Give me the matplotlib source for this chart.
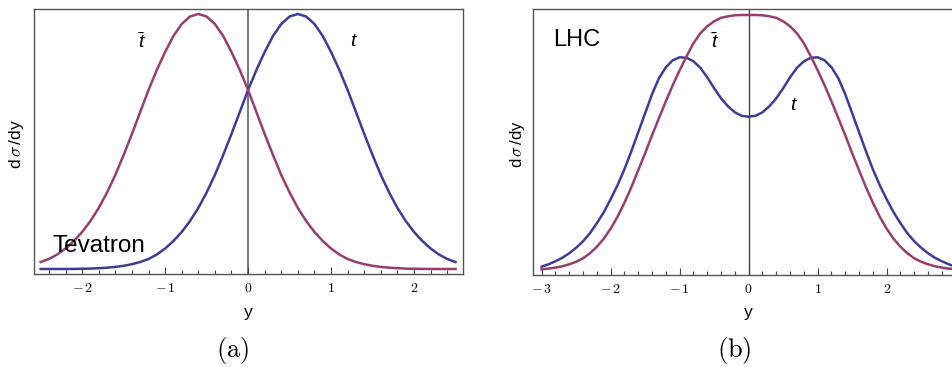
import numpy as np
import matplotlib
matplotlib.use('Agg')
import matplotlib.pyplot as plt
from matplotlib.ticker import MultipleLocator

plt.rcParams['font.family'] = ['Liberation Sans', 'DejaVu Sans']
plt.rcParams['mathtext.fontset'] = 'custom'
plt.rcParams['mathtext.it'] = 'Liberation Sans:italic'
plt.rcParams['mathtext.rm'] = 'Liberation Sans'

# (a) Tevatron, y from -2.5 to 2.5 in steps of 0.1 (arbitrary units)
tev_y = np.linspace(-2.5, 2.5, 51)
tev_top = [5.0, 5.0, 5.0, 5.0, 5.1, 5.2, 5.4, 5.8, 6.3, 7.1,
           8.2, 9.8, 12.0, 15.0, 19.5, 25.5, 33.0, 42.0, 53.0, 66.0,
           81.5, 99.0, 119.0, 140.0, 162.0, 184.0, 204.0, 222.0, 238.0, 250.0,
           257.5, 260.0, 257.5, 250.0, 238.0, 222.0, 204.0, 184.0, 162.0, 140.0,
           119.0, 99.0, 81.5, 66.0, 53.0, 42.0, 33.0, 25.5, 19.5, 15.0,
           12.0]
tev_antitop = [12.0, 15.0, 19.5, 25.5, 33.0, 42.0, 53.0, 66.0, 81.5, 99.0,
               119.0, 140.0, 162.0, 184.0, 204.0, 222.0, 238.0, 250.0, 257.5, 260.0,
               257.5, 250.0, 238.0, 222.0, 204.0, 184.0, 162.0, 140.0, 119.0, 99.0,
               81.5, 66.0, 53.0, 42.0, 33.0, 25.5, 19.5, 15.0, 12.0, 9.8,
               8.2, 7.1, 6.3, 5.8, 5.4, 5.2, 5.1, 5.0, 5.0, 5.0,
               5.0]

# (b) LHC, y from -3 to 3 in steps of 0.1
lhc_y = np.linspace(-3.0, 3.0, 61)
lhc_top = [8.6, 11, 14, 17.5, 22, 27.5, 34, 42, 52, 63,
           76, 90, 106, 124, 143, 162, 181, 197, 208, 215,
           218, 217.5, 214, 207.5, 198, 187, 177, 169, 163, 159.5,
           158.6,
           159.5, 163, 169, 177, 187, 198, 207.5, 214, 217.5, 218,
           215, 208, 197, 181, 162, 143, 124, 106, 90, 76,
           63, 52, 42, 34, 27.5, 22, 17.5, 14, 11, 8.6]
lhc_antitop = [6, 6.7, 7.7, 9, 11, 13.5, 17, 22, 28.5, 36.5,
               46.5, 58.5, 72.5, 88, 105, 122, 140, 157, 174, 190,
               205, 219, 232, 242, 249, 254, 257.5, 259, 260, 260.3,
               260.3,
               260.3, 260, 259, 257.5, 254, 249, 242, 232, 219, 205,
               190, 174, 157, 140, 122, 105, 88, 72.5, 58.5, 46.5,
               36.5, 28.5, 22, 17, 13.5, 11, 9, 7.7, 6.7, 6]

tev_ticks = [-2, -1, 0, 1, 2]
lhc_ticks = [-3, -2, -1, 0, 1, 2]

BLUE = (0.24, 0.24, 0.6)
PURPLE = (0.6, 0.24, 0.442)
W, H = 953, 367


def tick_text(v):
    if v < 0:
        return r'$-\,%d$' % (-v)
    return r'$%d$' % v


def setup(ax, xlim, ylim, ticks, zero_color, zero_lw):
    ax.set_xlim(xlim)
    ax.set_ylim(ylim)
    ax.set_yticks([])
    ax.set_xticks(ticks)
    ax.set_xticklabels([tick_text(v) for v in ticks], math_fontfamily='cm')
    ax.xaxis.set_minor_locator(MultipleLocator(0.2))
    ax.tick_params(axis='x', which='both', direction='in', top=False,
                   color='#444444', width=0.8)
    ax.tick_params(axis='x', which='major', length=5, labelsize=10, pad=5)
    ax.tick_params(axis='x', which='minor', length=3)
    for s in ax.spines.values():
        s.set_color('#555555')
        s.set_linewidth(1.0)
    ax.axvline(0, color=zero_color, lw=zero_lw, zorder=1)


fig = plt.figure(figsize=(W / 100, H / 100), dpi=100)
ax1 = fig.add_axes([34 / W, 1 - 274 / H, 429 / W, 265.5 / H])
ax2 = fig.add_axes([533.3 / W, 1 - 275.3 / H, 430.7 / W, 266 / H])

setup(ax1, (-2.58, 2.59), (0, 265.5), tev_ticks, '#7a7a7a', 1.4)
ax1.plot(tev_y, tev_top, color=BLUE, lw=1.8, zorder=3)
ax1.plot(tev_y, tev_antitop, color=PURPLE, lw=1.8, zorder=3)
ax1.text(-2.363, 22, 'Tevatron', fontsize=17.5, va='baseline', ha='left')
ax1.text(-1.28, 232, r'$\bar{t}$', fontsize=14, ha='center', va='center')
ax1.text(1.276, 232, r'$t$', fontsize=14, ha='center', va='center')

setup(ax2, (-3.12, 3.12), (0, 266), lhc_ticks, '#444444', 1.0)
ax2.plot(lhc_y, lhc_top, color=BLUE, lw=1.8, zorder=3)
ax2.plot(lhc_y, lhc_antitop, color=PURPLE, lw=1.8, zorder=3)
ax2.text(-2.84, 229.3, 'LHC', fontsize=17, va='baseline', ha='left')
ax2.text(-0.49, 233.5, r'$\bar{t}$', fontsize=14, ha='center', va='center')
ax2.text(0.656, 170, r'$t$', fontsize=14, ha='center', va='center')

# axis labels
for cx in (248, 748.7):
    fig.text(cx / W, 1 - 312 / H, 'y', fontsize=12.5, ha='center', va='center')
fig.text(17 / W, 1 - 144 / H, r'd$\,\sigma\,$/dy', fontsize=12.5, rotation=90,
         ha='center', va='center', math_fontfamily='cm')
fig.text(518 / W, 1 - 144 / H, r'd$\,\sigma\,$/dy', fontsize=12, rotation=90,
         ha='center', va='center', math_fontfamily='cm')

fig.text(233 / W, 1 - 351 / H, r'$\mathrm{(a)}$', fontsize=19,
         ha='center', va='center', math_fontfamily='cm')
fig.text(734 / W, 1 - 351 / H, r'$\mathrm{(b)}$', fontsize=19,
         ha='center', va='center', math_fontfamily='cm')

fig.savefig('out.png', dpi=100)
